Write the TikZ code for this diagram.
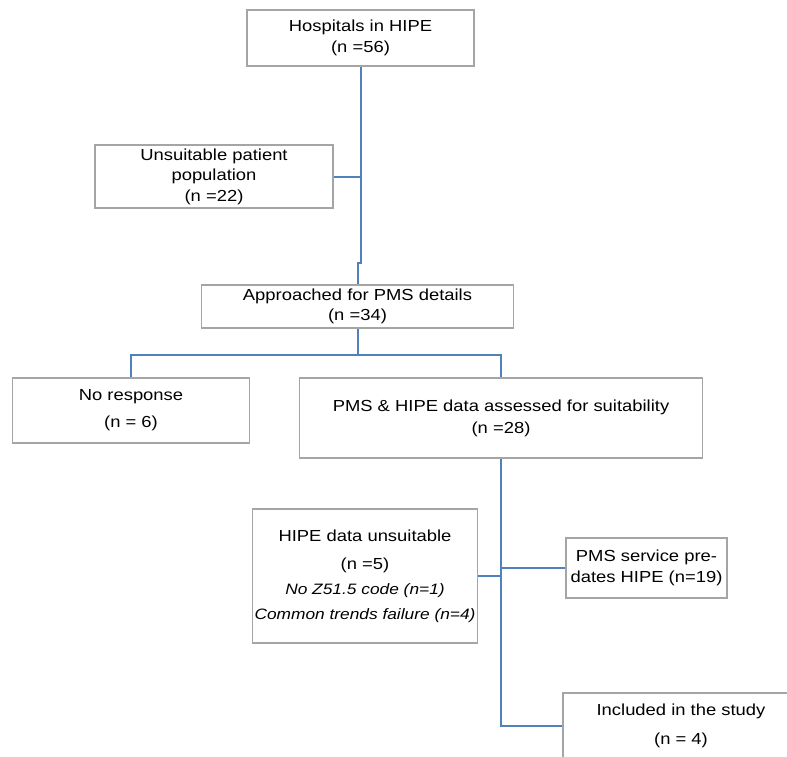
\documentclass[tikz,border=0pt]{standalone}
\usepackage{xcolor}
\usepackage{fontspec}
\setmainfont{Liberation Sans}[FakeStretch=1.15]
\usetikzlibrary{positioning}

\definecolor{linkblue}{RGB}{79,129,189}
\definecolor{boxgray}{RGB}{165,165,165}

\begin{document}
\begin{tikzpicture}[
    x=0.75pt, y=-0.75pt,
    box/.style={rectangle, draw=boxgray, line width=0.9pt, fill=white, align=center, inner sep=0pt, font=\fontsize{12}{15.4}\selectfont},
    note/.style={font=\fontsize{11.3}{14}\selectfont\itshape},
    flow/.style={draw=linkblue, line width=1.5pt}
]
\useasboundingbox (0,0) rectangle (787,756);
\clip (0,0) rectangle (787,756);

\node[box, minimum width=170.25pt, minimum height=42pt]    (hosp)    at (360.5,38)  {Hospitals in HIPE\\(n =56)};
\node[box, minimum width=178.5pt,  minimum height=47.25pt] (unsuit)  at (214,176.5) {Unsuitable patient\\population\\(n =22)};
\node[box, minimum width=234pt,    minimum height=32.25pt] (appr)    at (357.5,306.5) {Approached for PMS details\\(n =34)};
\node[box, minimum width=178pt,    minimum height=48.75pt] (noresp)  at (131,410.5) {No response\\[4.85pt](n = 6)};
\node[box, minimum width=302pt,    minimum height=60pt]    (assess)  at (501,418)   {PMS \& HIPE data assessed for suitability\\[1.1pt](n =28)};
\node[box, minimum width=168.4pt,  minimum height=100.5pt] (hipeun)  at (365,576)   {HIPE data unsuitable\\[5.6pt](n =5)\\[3.4pt]{\itshape\fontsize{11.3}{14}\selectfont No Z51.5 code (n=1)}\\[3.4pt]{\itshape\fontsize{11.3}{14}\selectfont Common trends failure (n=4)}};
\node[box, minimum width=120.75pt, minimum height=45pt]    (predate) at (646.5,568) {PMS service pre-\\dates HIPE (n=19)};
\node[box, minimum width=177pt,    minimum height=49.5pt]  (incl)    at (681,726)   {Included in the study\\[6.35pt](n = 4)};

% trunk from the top down to the first split
\draw[flow] (hosp.south) -- ++(0,196) -| (appr.north);
\draw[flow] (unsuit.east) -- (unsuit.east -| hosp.south);

% split after approach
\draw[flow] (appr.south) -- ++(0,26) coordinate (split);
\draw[flow] (noresp.north) |- (split) -| (assess.north);

% second trunk
\draw[flow] (assess.south) |- (incl.west);
\draw[flow] (hipeun.east) -- (hipeun.east -| assess.south);
\draw[flow] (predate.west) -- (predate.west -| assess.south);
\end{tikzpicture}
\end{document}
